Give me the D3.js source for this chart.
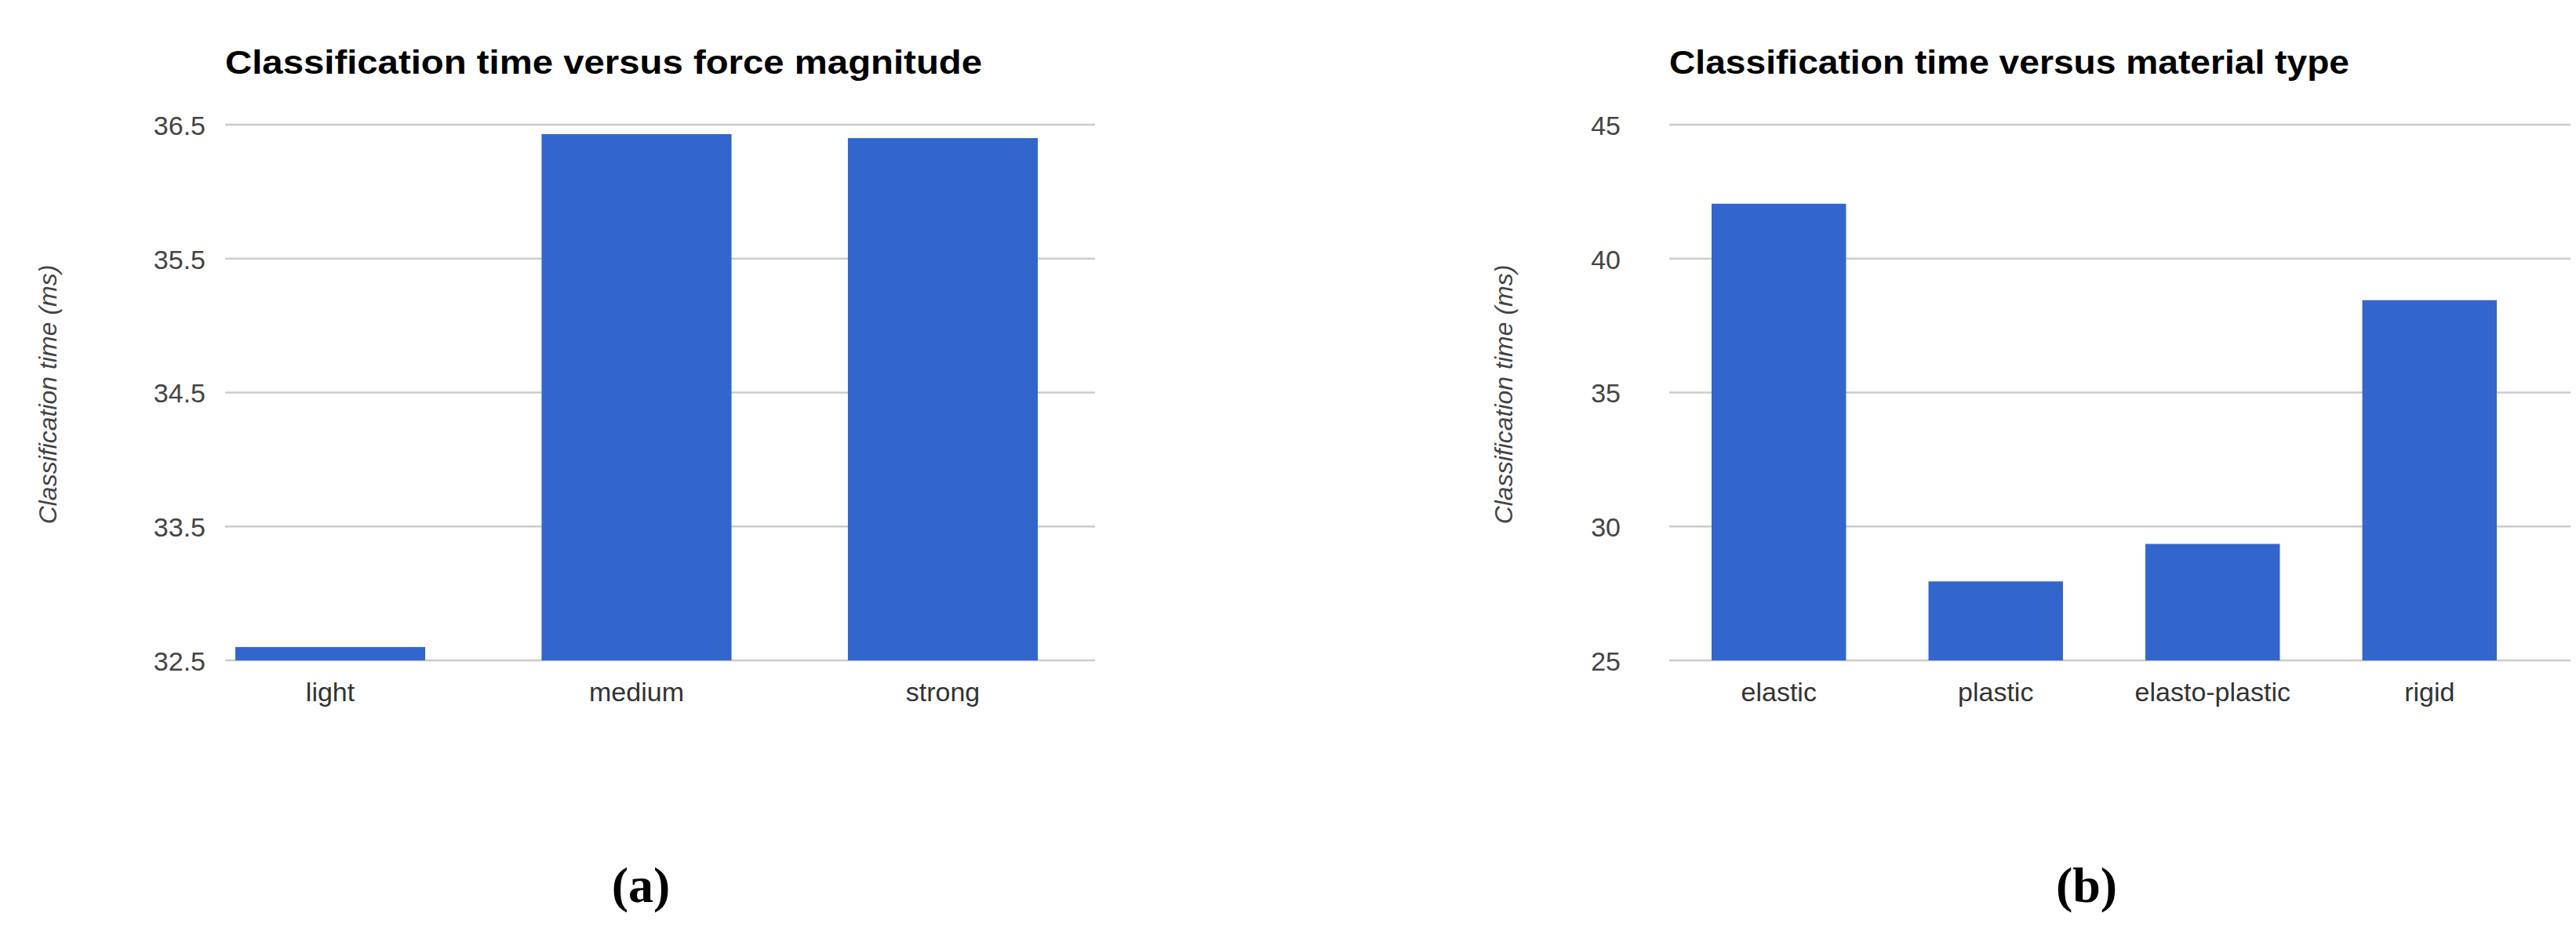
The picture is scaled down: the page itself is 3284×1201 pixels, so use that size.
<!DOCTYPE html>
<html><head><meta charset="utf-8">
<script src="https://cdn.jsdelivr.net/npm/d3@7"></script>
<style>body{margin:0;background:#fff}</style></head>
<body><svg id="c" width="3284" height="1201"></svg>
<script>
const forceCats = ["light","medium","strong"];
const forceVals = [32.6, 36.43, 36.4];
const forceTicks = [32.5, 33.5, 34.5, 35.5, 36.5];
const matCats = ["elastic","plastic","elasto-plastic","rigid"];
const matVals = [42.05, 27.95, 29.35, 38.45];
const matTicks = [25, 30, 35, 40, 45];

const svg = d3.select("#c");
const narrow = "'Liberation Sans Narrow','Arial Narrow',sans-serif";
const Y0 = 842, Y1 = 159;

function chart(o){
  const g = svg.append("g");
  const x = d3.scaleBand().domain(o.cats).range([o.b0,o.b1]).paddingInner(o.pad).paddingOuter(0);
  const y = d3.scaleLinear().domain([o.ticks[0], o.ticks[o.ticks.length-1]]).range([Y0,Y1]);
  g.selectAll(".grid").data(o.ticks).join("line")
    .attr("x1",o.x0).attr("x2",o.x1).attr("y1",d=>y(d)).attr("y2",d=>y(d))
    .attr("stroke","#cccccc").attr("stroke-width",2.5);
  g.selectAll(".bar").data(o.vals).join("rect")
    .attr("x",(d,i)=>x(o.cats[i])).attr("width",x.bandwidth())
    .attr("y",d=>y(d)).attr("height",d=>y(o.ticks[0])-y(d)).attr("fill","#3366cc");
  const ya = d3.axisLeft(y).tickValues(o.ticks).tickSize(0).tickPadding(0).tickFormat(o.fmt);
  const ag = g.append("g").attr("transform",`translate(${o.tickX},0)`).call(ya);
  ag.select(".domain").remove();
  ag.selectAll("text").attr("font-family",narrow).attr("font-size",34).attr("fill","#444").attr("dy","0.36em");
  const xa = d3.axisBottom(x).tickSize(0).tickPadding(0);
  const xg = g.append("g").attr("transform",`translate(0,882)`).call(xa);
  xg.select(".domain").remove();
  xg.selectAll("text").attr("font-family",narrow).attr("font-size",34).attr("fill","#333").attr("dy","0.36em");
  g.append("text").attr("x",o.x0).attr("y",94).text(o.title)
    .attr("font-family",narrow).attr("font-weight","bold").attr("font-size",42).attr("fill","#000")
    .attr("textLength",o.titleW).attr("lengthAdjust","spacingAndGlyphs");
  g.append("text").attr("transform",`translate(${o.labX},503) rotate(-90)`).attr("text-anchor","middle")
    .text("Classification time (ms)").attr("font-family","'Liberation Sans',Arial,sans-serif")
    .attr("font-style","italic").attr("font-size",32).attr("fill","#444");
  svg.append("text").attr("x",o.capX).attr("y",1150).attr("text-anchor","middle").text(o.cap)
    .attr("font-family","'Liberation Serif','Times New Roman',serif").attr("font-weight","bold")
    .attr("font-size",64).attr("fill","#000");
}
chart({cats:forceCats,vals:forceVals,ticks:forceTicks,fmt:d3.format(".1f"),x0:287,x1:1396,b0:300,b1:1323,pad:0.38,
  tickX:262,labX:72,title:"Classification time versus force magnitude",titleW:965,cap:"(a)",capX:817});
chart({cats:matCats,vals:matVals,ticks:matTicks,fmt:d3.format("d"),x0:2128,x1:3277,b0:2182,b1:3183,pad:0.38,
  tickX:2066,labX:1928,title:"Classification time versus material type",titleW:867,cap:"(b)",capX:2660});
</script></body></html>
